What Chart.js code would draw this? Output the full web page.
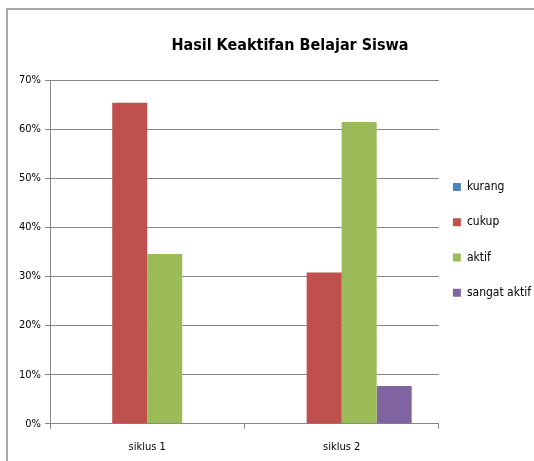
<!DOCTYPE html>
<html>
<head>
<meta charset="utf-8">
<script src="https://cdn.jsdelivr.net/npm/chart.js@4"></script>
<style>
  html, body { margin: 0; background: #fff; overflow: hidden; }
  #wrap { position: relative; width: 534px; height: 461px; }
  canvas { display: block; }
  #frame {
    position: absolute; left: 6px; top: 8px; right: 0; bottom: 0;
    border-top: 2px solid #a6a6a6; border-left: 2px solid #a6a6a6;
    pointer-events: none;
  }
</style>
</head>
<body>
<div id="wrap">
  <canvas id="keaktifanChart" width="534" height="461"></canvas>
  <div id="frame"></div>
</div>
<script>
  const categories = ["siklus 1", "siklus 2"];
  const kurang = [0, 0];
  const cukup = [0.654, 0.308];
  const aktif = [0.346, 0.615];
  const sangatAktif = [0, 0.077];

  const font = "'DejaVu Sans Condensed', 'Open Sans', sans-serif";

  // y labels hang left of the narrow axis box, so widen its clip area
  const yLabelRoom = {
    id: "yLabelRoom",
    afterLayout(chart) {
      chart.scales.y.left = 0;
    },
  };

  const ctx = document.getElementById("keaktifanChart").getContext("2d");
  const myChart = new Chart(ctx, {
    type: "bar",
    data: {
      labels: categories,
      datasets: [
        { label: "kurang", data: kurang, backgroundColor: "#4f81bd" },
        { label: "cukup", data: cukup, backgroundColor: "#c0504d" },
        { label: "aktif", data: aktif, backgroundColor: "#9bbb59" },
        { label: "sangat aktif", data: sangatAktif, backgroundColor: "#8064a2" },
      ],
    },
    options: {
      responsive: false,
      animation: false,
      devicePixelRatio: 1,
      layout: { padding: { left: 39, right: -7, top: 18, bottom: -5 } },
      datasets: { bar: { barPercentage: 1, categoryPercentage: 0.72 } },
      plugins: {
        title: {
          display: true,
          text: "Hasil Keaktifan Belajar Siswa",
          color: "#000",
          font: { family: font, size: 16, weight: "bold" },
          padding: { top: 18, bottom: 25 },
        },
        legend: {
          position: "right",
          title: {
            display: true,
            text: " ",
            font: { family: font, size: 3, lineHeight: 1 },
            padding: 1,
          },
          labels: {
            color: "#000",
            font: { family: font, size: 12, lineHeight: 1.77 },
            boxWidth: 8,
            boxHeight: 8,
            padding: 14,
            // wrap text in an array so the row height follows font.lineHeight
            generateLabels: (chart) =>
              Chart.defaults.plugins.legend.labels
                .generateLabels(chart)
                .map((l) => ({ ...l, text: [l.text] })),
          },
        },
        tooltip: { enabled: false },
      },
      scales: {
        x: {
          grid: {
            display: true,
            drawOnChartArea: false,
            offset: true,
            tickLength: 5,
            color: "#868686",
          },
          border: { color: "#868686" },
          ticks: { color: "#000", font: { family: font, size: 11 }, padding: 12 },
        },
        y: {
          min: 0,
          max: 0.7,
          grid: { color: "#868686", tickLength: 5 },
          border: { color: "#868686" },
          ticks: {
            stepSize: 0.1,
            color: "#000",
            font: { family: font, size: 11 },
            padding: 4,
            callback: (v) => Math.round(v * 100) + "%",
          },
          afterFit: (scale) => { scale.width = 11; },
        },
      },
    },
    plugins: [yLabelRoom],
  });
</script>
</body>
</html>
